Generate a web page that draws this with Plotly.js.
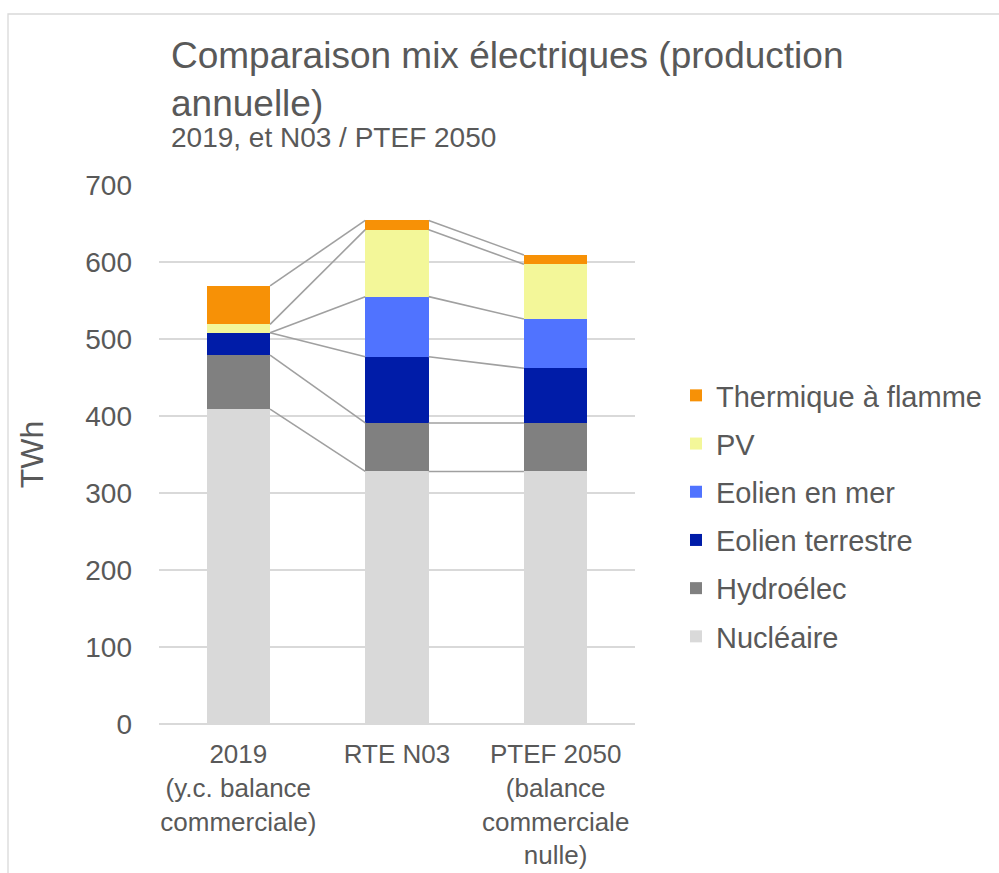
<!DOCTYPE html>
<html>
<head>
<meta charset="utf-8">
<script src="https://cdn.plot.ly/plotly-3.0.1.min.js"></script>
<style>html,body{margin:0;padding:0;background:#fff;}#chart{width:999px;height:873px;}</style>
</head>
<body>
<div id="chart"></div>
<script>
// ---- data ----
const categories = ["2019<br>(y.c. balance<br>commerciale)", "RTE N03", "PTEF 2050<br>(balance<br>commerciale<br>nulle)"];
const seriesNames = ["Nucléaire", "Hydroélec", "Eolien terrestre", "Eolien en mer", "PV", "Thermique à flamme"];
const nucleaire = [409, 328, 328];
const hydroelec = [70, 63, 63];
const eolienTerrestre = [29, 86, 71];
const eolienMer = [0, 78, 64];
const pv = [11, 87, 71];
const thermique = [50, 12, 12];
const colors = ["#d9d9d9", "#808080", "#001ca8", "#5073ff", "#f3f799", "#f79106"];

// ---- build ----
const series = [nucleaire, hydroelec, eolienTerrestre, eolienMer, pv, thermique];
const xIdx = categories.map((_, i) => i);
const barWidth = 0.4;
const font = "Liberation Sans, Arial, sans-serif";
const txt = "#595959";

const traces = series.map((vals, k) => ({
  type: "bar", name: seriesNames[k], x: xIdx, y: vals, width: barWidth,
  marker: {color: colors[k]}, legendgroup: "g" + k, legendrank: series.length - k,
  hoverinfo: "name+y"
}));

// series lines linking cumulative tops of adjacent bars
const cum = xIdx.map(i => {
  let s = 0; return series.map(v => (s += v[i]));
});
const lx = [], ly = [];
for (let k = 0; k < series.length; k++) {
  for (let i = 0; i < xIdx.length - 1; i++) {
    lx.push(xIdx[i] + barWidth / 2, xIdx[i + 1] - barWidth / 2, null);
    ly.push(cum[i][k], cum[i + 1][k], null);
  }
}
traces.push({
  type: "scatter", mode: "lines", x: lx, y: ly, showlegend: false,
  hoverinfo: "skip", line: {color: "#a0a0a0", width: 1.6}, connectgaps: false
});

const layout = {
  width: 999, height: 873,
  margin: {l: 159, r: 364, t: 185, b: 149},
  paper_bgcolor: "#fff", plot_bgcolor: "#fff",
  font: {family: font, color: txt},
  barmode: "stack",
  showlegend: true,
  title: {
    text: "Comparaison mix électriques (production<br>annuelle)",
    font: {family: font, size: 37, color: txt},
    x: 171 / 999, xanchor: "left", xref: "container",
    y: 1 - 68 / 873, yanchor: "middle", yref: "container"
  },
  annotations: [{
    text: "2019, et N03 / PTEF 2050", showarrow: false,
    xref: "paper", yref: "paper", x: (169 - 159) / 476, xanchor: "left",
    y: (724 - 137) / 539, yanchor: "middle",
    font: {family: font, size: 28, color: txt}
  }],
  xaxis: {
    range: [-0.5, 2.5], tickvals: xIdx, ticktext: categories,
    showgrid: false, zeroline: false, showline: false, ticks: "",
    tickfont: {family: font, size: 26, color: txt},
    ticklabelstandoff: 12, fixedrange: true
  },
  yaxis: {
    range: [0, 700], dtick: 100, tick0: 0,
    showgrid: true, gridcolor: "#d9d9d9", gridwidth: 1.3,
    zeroline: true, zerolinecolor: "#d9d9d9", zerolinewidth: 1.3,
    showline: false, ticks: "",
    tickfont: {family: font, size: 28, color: txt},
    ticklabelstandoff: 26,
    title: {text: "TWh", font: {family: font, size: 32, color: txt}, standoff: 32},
    fixedrange: true
  },
  legend: {
    x: (676 - 159) / 476, xanchor: "left",
    y: (724 - 370) / 539, yanchor: "top",
    traceorder: "grouped", tracegroupgap: 7.5,
    font: {family: font, size: 29, color: txt},
    bgcolor: "rgba(0,0,0,0)", borderwidth: 0
  },
  shapes: [{
    type: "rect", xref: "paper", yref: "paper",
    x0: (8 - 159) / 476, x1: 2, y0: -1, y1: (724 - 14) / 539,
    line: {color: "#d9d9d9", width: 1.3}, fillcolor: "rgba(0,0,0,0)", layer: "below"
  }]
};

Plotly.newPlot("chart", traces, layout, {displayModeBar: false, staticPlot: true});
</script>
</body>
</html>
